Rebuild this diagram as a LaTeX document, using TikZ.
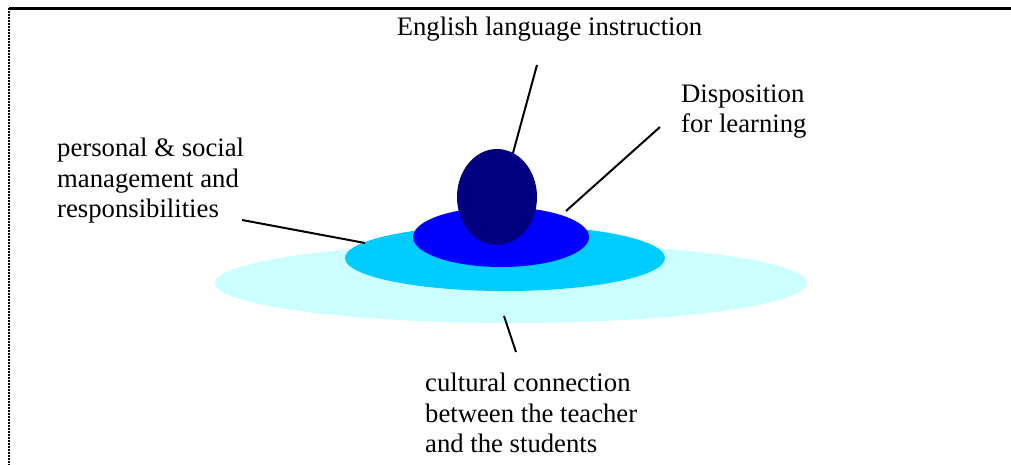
\documentclass[tikz,border=0pt]{standalone}
\usepackage{fontspec}
\setmainfont{Liberation Serif}
\usetikzlibrary{shapes.geometric}
\definecolor{lightcy}{HTML}{CCFFFF}
\definecolor{midcy}{HTML}{00CCFF}
\definecolor{pureblue}{HTML}{0000FF}
\definecolor{navyblue}{HTML}{000080}
\begin{document}
\begin{tikzpicture}[x=1pt,y=-1pt,
  disc/.style={ellipse, draw=none, inner sep=0pt},
  lbl/.style={anchor=base west, inner sep=0pt, align=left, font=\fontsize{26.7}{30.3}\selectfont},
  conn/.style={line width=2pt, black}]
\useasboundingbox (0,0) rectangle (1011,465);
% frame
\draw[line width=3pt] (9,9) -- (1011,9);
\draw[line width=1.5pt, dash pattern=on 2pt off 1pt] (9,8) -- (9,465);
% discs
\node[disc, fill=lightcy, minimum width=592pt, minimum height=80pt] (outer) at (511,283) {};
\node[disc, fill=midcy, minimum width=320pt, minimum height=66pt] (middle) at (505,258) {};
\node[disc, fill=pureblue, minimum width=176pt, minimum height=60pt] (inner) at (501,237) {};
\node[disc, fill=navyblue, minimum width=80pt, minimum height=96pt] (core) at (497,197) {};
% labels (base anchor = baseline of last line)
\node[lbl, anchor=base] (eng) at (549.5,36) {English language instruction};
\node[lbl] (disp) at (681,132.5) {Disposition\\for learning};
\node[lbl] (pers) at (57,217.5) {personal \& social\\management and\\responsibilities};
\node[lbl] (cult) at (425,452.5) {cultural connection\\between the teacher\\and the students};
% connector ends
\coordinate (e1) at (537,65);  \coordinate (e2) at (513,153);
\coordinate (d1) at (660,127); \coordinate (d2) at (566,211);
\coordinate (p1) at (242,220); \coordinate (p2) at (365,243);
\coordinate (c1) at (516,352); \coordinate (c2) at (504,316);
\draw[conn] (e1) -- (e2);
\draw[conn] (d1) -- (d2);
\draw[conn] (p1) -- (p2);
\draw[conn] (c1) -- (c2);
\end{tikzpicture}
\end{document}
